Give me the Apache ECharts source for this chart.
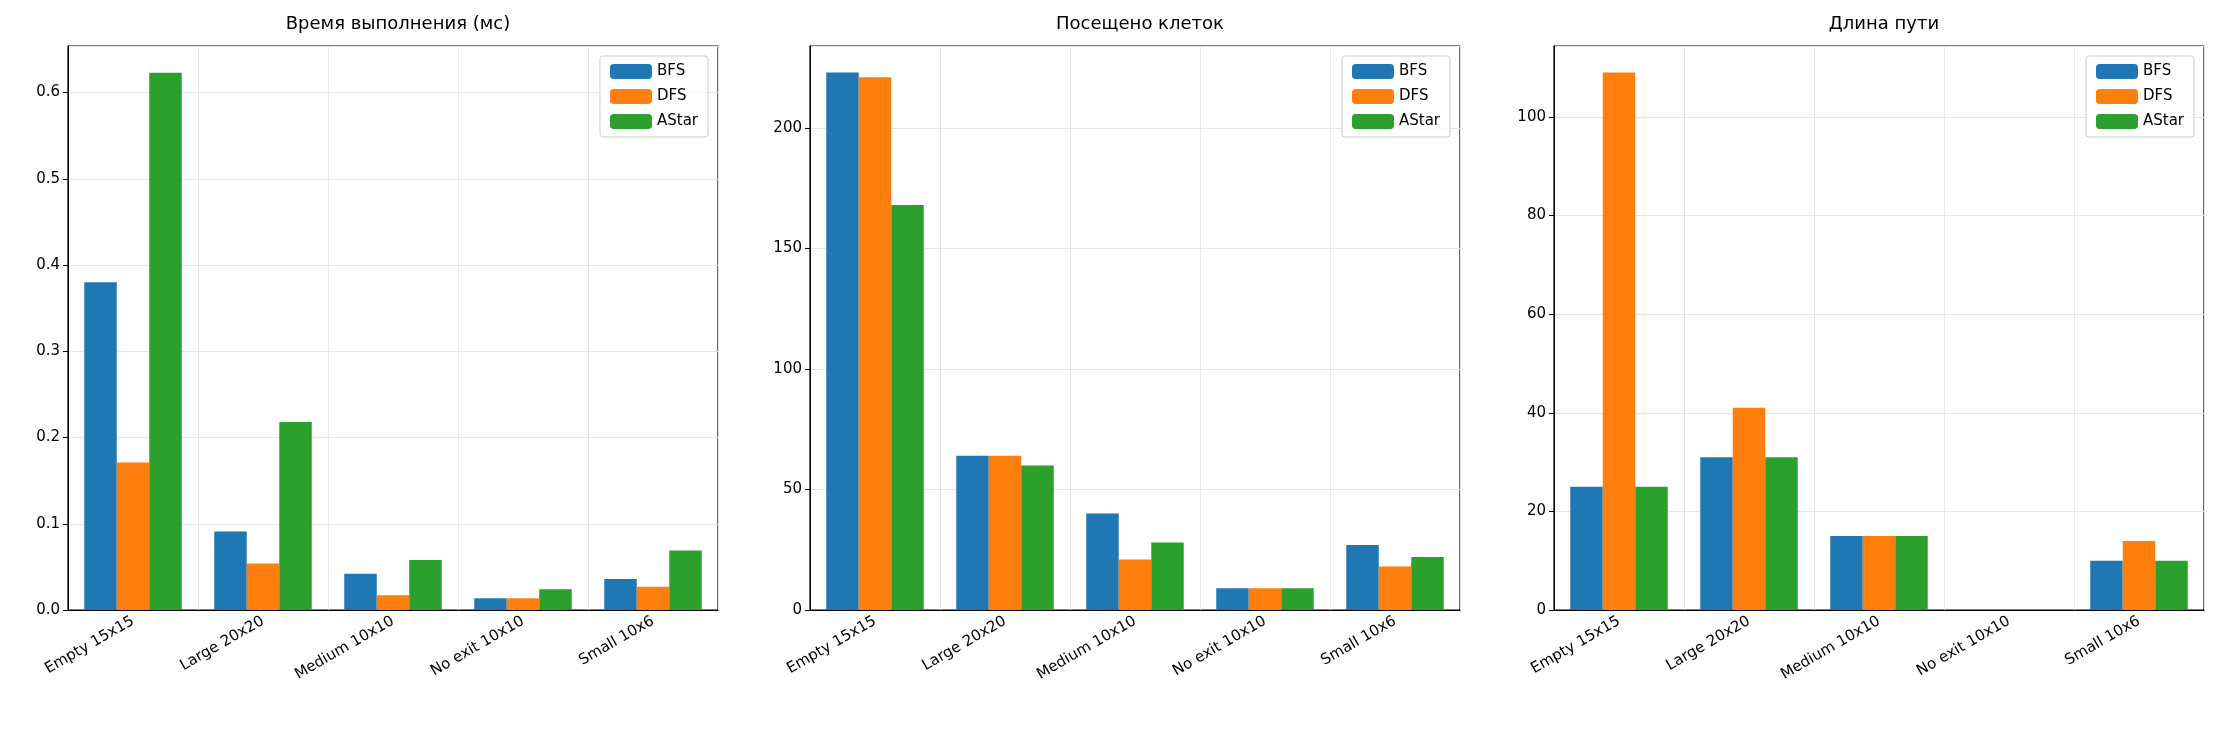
<!DOCTYPE html>
<html><head><meta charset="utf-8">
<script src="https://cdn.jsdelivr.net/npm/echarts@6/dist/echarts.min.js"></script>
<style>html,body{margin:0;padding:0;background:#fff}#c{width:2218px;height:734px}</style>
</head><body><div id="c"></div>
<script>
const categories = ['Empty 15x15','Large 20x20','Medium 10x10','No exit 10x10','Small 10x6'];
const seriesNames = ['BFS','DFS','AStar'];
const titles = ['Время выполнения (мс)','Посещено клеток','Длина пути'];
const timeBFS = [0.380,0.091,0.042,0.0136,0.036];
const timeDFS = [0.171,0.054,0.017,0.0136,0.027];
const timeAStar = [0.623,0.218,0.058,0.024,0.069];
const visitedBFS = [223,64,40,9,27];
const visitedDFS = [221,64,21,9,18];
const visitedAStar = [168,60,28,9,22];
const pathBFS = [25,31,15,0,10];
const pathDFS = [109,41,15,0,14];
const pathAStar = [25,31,15,0,10];
const yMax = [0.654,234,114.4];
const yInterval = [0.1,50,20];

(function(){
const colors = ['#1f77b4','#ff7f0e','#2ca02c'];
const data = [[timeBFS,timeDFS,timeAStar],[visitedBFS,visitedDFS,visitedAStar],[pathBFS,pathDFS,pathAStar]];
const lefts = [68,810,1554], gw = 650, gTop = 46, gBottom = 124;
const font = 'DejaVu Sans';
const option = {animation:false, textStyle:{fontFamily:font}, color:colors,
  title:[], grid:[], xAxis:[], yAxis:[], legend:[], series:[]};
for (let i=0;i<3;i++){
  option.title.push({text:titles[i], left:lefts[i]+gw/2, top:10, textAlign:'center',
    textStyle:{fontFamily:font,fontSize:18,fontWeight:'normal',color:'#000'}});
  option.grid.push({left:lefts[i], width:gw, top:gTop, bottom:gBottom, show:true,
    borderColor:'#000', borderWidth:1.2, containLabel:false});
  option.xAxis.push({type:'category', gridIndex:i, data:categories,
    axisLine:{lineStyle:{color:'#000'}}, axisTick:{alignWithLabel:true,length:5,lineStyle:{color:'#000'}},
    axisLabel:{rotate:30, fontSize:15, color:'#000', fontFamily:font, interval:0, margin:10},
    splitLine:{show:true, lineStyle:{color:'#e6e6e6'}}});
  option.yAxis.push({type:'value', gridIndex:i, min:0, max:yMax[i], interval:yInterval[i],
    axisLine:{show:true,lineStyle:{color:'#000'}}, axisTick:{show:true,length:5,lineStyle:{color:'#000'}},
    axisLabel:{fontSize:15,color:'#000',fontFamily:font,showMaxLabel:false,
      formatter: v => i===0 ? v.toFixed(1) : String(v)},
    splitLine:{show:true, lineStyle:{color:'#e6e6e6'}}});
  option.legend.push({data:seriesNames, orient:'vertical', right: 2218-(lefts[i]+gw)+10, top:gTop+10,
    itemWidth:42, itemHeight:15, itemGap:10, padding:[8,10,8,10], borderColor:'#ccc', borderWidth:1,
    borderRadius:3, backgroundColor:'rgba(255,255,255,0.8)',
    textStyle:{fontSize:15,color:'#000',fontFamily:font},
    selectedMode:false});
  for (let s=0;s<3;s++){
    option.series.push({type:'bar', name:seriesNames[s], xAxisIndex:i, yAxisIndex:i,
      data:data[i][s], barGap:'0%', barCategoryGap:'25%', itemStyle:{color:colors[s]}});
  }
}
const chart = echarts.init(document.getElementById('c'));
chart.setOption(option);
})();
</script></body></html>
